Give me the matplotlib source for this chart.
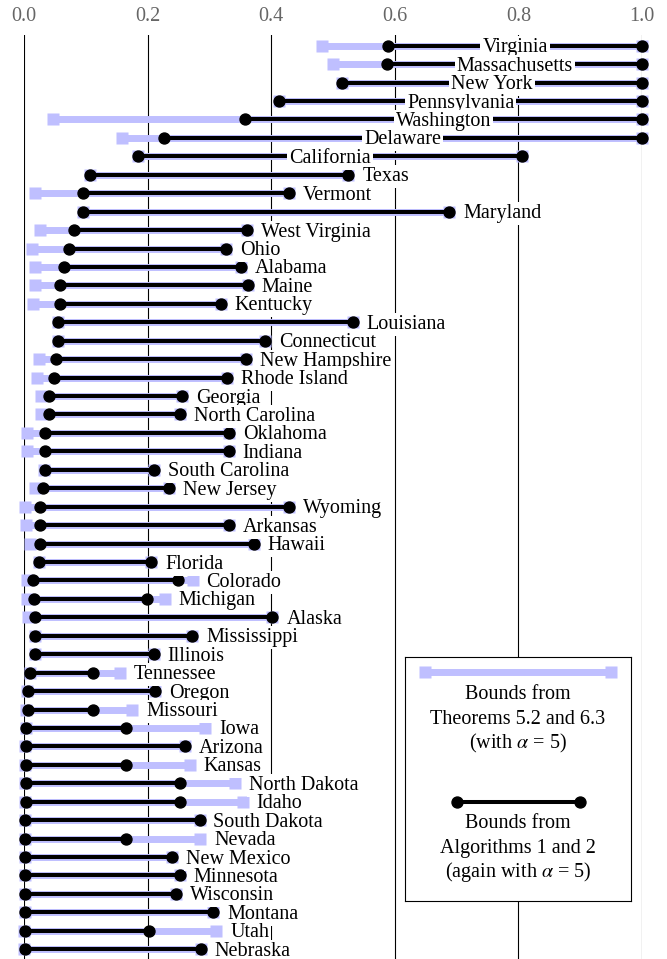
import matplotlib
matplotlib.use('Agg')
import matplotlib.pyplot as plt

plt.rcParams['font.family'] = ['Liberation Serif', 'DejaVu Serif']
plt.rcParams['mathtext.fontset'] = 'stix'

# states, top to bottom
states = ['Virginia', 'Massachusetts', 'New York', 'Pennsylvania', 'Washington',
          'Delaware', 'California', 'Texas', 'Vermont', 'Maryland',
          'West Virginia', 'Ohio', 'Alabama', 'Maine', 'Kentucky',
          'Louisiana', 'Connecticut', 'New Hampshire', 'Rhode Island', 'Georgia',
          'North Carolina', 'Oklahoma', 'Indiana', 'South Carolina', 'New Jersey',
          'Wyoming', 'Arkansas', 'Hawaii', 'Florida', 'Colorado',
          'Michigan', 'Alaska', 'Mississippi', 'Illinois', 'Tennessee',
          'Oregon', 'Missouri', 'Iowa', 'Arizona', 'Kansas',
          'North Dakota', 'Idaho', 'South Dakota', 'Nevada', 'New Mexico',
          'Minnesota', 'Wisconsin', 'Montana', 'Utah', 'Nebraska']

# bounds from Algorithms 1 and 2
alg_lo = [0.589, 0.588, 0.514, 0.413, 0.358, 0.226, 0.185, 0.106, 0.095, 0.095,
          0.081, 0.073, 0.065, 0.058, 0.058, 0.055, 0.055, 0.051, 0.049, 0.040,
          0.040, 0.034, 0.034, 0.034, 0.030, 0.026, 0.026, 0.026, 0.025, 0.015,
          0.016, 0.017, 0.017, 0.017, 0.010, 0.007, 0.006, 0.004, 0.003, 0.003,
          0.003, 0.003, 0.002, 0.002, 0.002, 0.002, 0.002, 0.002, 0.001, 0.001]
alg_hi = [1.0, 1.0, 1.0, 1.0, 1.0, 1.0, 0.806, 0.525, 0.429, 0.688,
          0.361, 0.327, 0.351, 0.362, 0.318, 0.532, 0.390, 0.360, 0.328, 0.256,
          0.252, 0.332, 0.331, 0.210, 0.234, 0.429, 0.331, 0.372, 0.206, 0.249,
          0.199, 0.402, 0.272, 0.210, 0.111, 0.212, 0.111, 0.165, 0.261, 0.165,
          0.253, 0.253, 0.284, 0.165, 0.239, 0.252, 0.246, 0.306, 0.202, 0.286]

# bounds from Theorems 5.2 and 6.3
thm_lo = [0.482, 0.500, 0.514, 0.413, 0.047, 0.159, 0.185, 0.106, 0.017, 0.095,
          0.026, 0.013, 0.018, 0.017, 0.015, 0.055, 0.055, 0.024, 0.021, 0.027,
          0.027, 0.005, 0.005, 0.033, 0.017, 0.002, 0.003, 0.009, 0.024, 0.005,
          0.005, 0.006, 0.017, 0.017, 0.009, 0.005, 0.004, 0.003, 0.002, 0.002,
          0.002, 0.002, 0.001, 0.001, 0.001, 0.001, 0.001, 0.001, 0.000, 0.000]
thm_hi = [1.0, 1.0, 1.0, 1.0, 1.0, 1.0, 0.806, 0.525, 0.429, 0.688,
          0.361, 0.327, 0.351, 0.362, 0.318, 0.532, 0.390, 0.360, 0.328, 0.256,
          0.252, 0.332, 0.331, 0.210, 0.234, 0.429, 0.331, 0.372, 0.206, 0.273,
          0.228, 0.402, 0.272, 0.210, 0.155, 0.212, 0.175, 0.293, 0.261, 0.268,
          0.341, 0.354, 0.284, 0.285, 0.239, 0.252, 0.246, 0.306, 0.311, 0.286]

ticks = [0.0, 0.2, 0.4, 0.6, 0.8, 1.0]
tick_labels = ['0.0', '0.2', '0.4', '0.6', '0.8', '1.0']

legend_thm = ['Bounds from', 'Theorems 5.2 and 6.3', '(with $\\alpha$ = 5)']
legend_alg = ['Bounds from', 'Algorithms 1 and 2', '(again with $\\alpha$ = 5)']

light = '#bfbfff'
fs = 14.5

fig = plt.figure(figsize=(6.67, 9.59), dpi=100)
ax = fig.add_axes([24 / 667, 0, 618 / 667, 1 - 35 / 959])
ax.set_xlim(0, 1)
ax.set_ylim(49.53, -0.58)

for t in ticks:
    ax.axvline(t, color='black', lw=0.8, zorder=0)

for i, name in enumerate(states):
    ax.plot([thm_lo[i], thm_hi[i]], [i, i], color=light, lw=5,
            solid_capstyle='butt', zorder=1, clip_on=False)
    ax.plot([thm_lo[i], thm_hi[i]], [i, i], ls='none', marker='s', ms=8.6,
            mfc=light, mec='none', zorder=2, clip_on=False)
    ax.plot([alg_lo[i], alg_hi[i]], [i, i], color='black', lw=2.9,
            marker='o', ms=7.9, zorder=3, clip_on=False)
    # long lines get the label in the middle, others to the right
    if alg_hi[i] > 0.75:
        x, dx, ha = (alg_lo[i] + alg_hi[i]) / 2, 0, 'center'
    else:
        x, dx, ha = max(alg_hi[i], thm_hi[i]), 10, 'left'
    ax.annotate(name, xy=(x, i), xytext=(dx, -4.7), textcoords='offset points',
                ha=ha, va='baseline', fontsize=fs, zorder=5,
                bbox=dict(boxstyle='square,pad=0.1', fc='white', ec='none'))

ax.xaxis.tick_top()
ax.set_xticks(ticks)
ax.set_xticklabels(tick_labels, fontsize=fs, color='#666666')
ax.tick_params(axis='x', length=0, pad=6.5)
ax.set_yticks([])
for s in ax.spines.values():
    s.set_visible(False)

# legend box
lax = fig.add_axes([405 / 667, 1 - 901 / 959, 226 / 667, 244 / 959])
lax.set_xlim(0, 1)
lax.set_ylim(1, 0)
lax.set_xticks([])
lax.set_yticks([])
for s in lax.spines.values():
    s.set_linewidth(0.8)
lax.plot([0.09, 0.91], [0.062, 0.062], color=light, lw=5, solid_capstyle='butt')
lax.plot([0.09, 0.91], [0.062, 0.062], ls='none', marker='s', ms=8.6, mfc=light, mec='none')
for k, line in enumerate(legend_thm):
    lax.text(0.5, 0.172 + 0.101 * k, line, ha='center', va='baseline', fontsize=fs)
lax.plot([0.23, 0.775], [0.593, 0.593], color='black', lw=2.9, marker='o', ms=7.9)
for k, line in enumerate(legend_alg):
    lax.text(0.5, 0.701 + 0.101 * k, line, ha='center', va='baseline', fontsize=fs)

fig.savefig('out.png', dpi=100)
